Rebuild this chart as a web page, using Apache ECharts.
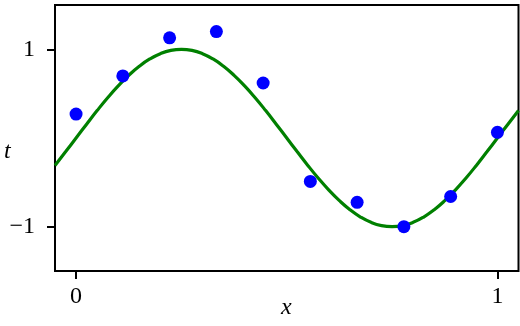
<!DOCTYPE html>
<html>
<head>
<meta charset="utf-8">
<script src="https://cdn.jsdelivr.net/npm/echarts@6/dist/echarts.min.js"></script>
<style>
html,body{margin:0;padding:0;background:#fff;}
#chart{width:520px;height:326px;}
</style>
</head>
<body>
<div id="chart"></div>
<script>
// Observed points
const pointX = [0, 0.111, 0.222, 0.333, 0.444, 0.556, 0.667, 0.778, 0.889, 1];
const pointT = [0.27, 0.70, 1.13, 1.20, 0.62, -0.49, -0.725, -1.0, -0.66, 0.064];
// Green curve
const curveX = [-0.05,-0.025,0,0.025,0.05,0.075,0.1,0.125,0.15,0.175,0.2,0.225,0.25,0.275,0.3,0.325,0.35,0.375,0.4,0.425,0.45,0.475,0.5,0.525,0.55,0.575,0.6,0.625,0.65,0.675,0.7,0.725,0.75,0.775,0.8,0.825,0.85,0.875,0.9,0.925,0.95,0.975,1,1.025,1.05];
const curveT = [-0.309,-0.156,0,0.156,0.309,0.454,0.588,0.707,0.809,0.891,0.951,0.988,1,0.988,0.951,0.891,0.809,0.707,0.588,0.454,0.309,0.156,0,-0.156,-0.309,-0.454,-0.588,-0.707,-0.809,-0.891,-0.951,-0.988,-1,-0.988,-0.951,-0.891,-0.809,-0.707,-0.588,-0.454,-0.309,-0.156,0,0.156,0.309];
const xTicks = [0, 1];
const yTicks = [-1, 1];
const xLabel = 'x';
const yLabel = 't';

const chart = echarts.init(document.getElementById('chart'), null, {renderer: 'canvas'});
const fmt = v => (v < 0 ? '\u2212' + Math.abs(v) : String(v));
const labelFont = {fontFamily: 'Liberation Serif', fontSize: 24, color: '#000'};
chart.setOption({
  animation: false,
  grid: {left: 55, right: 1.5, top: 5, bottom: 55, show: true, borderColor: '#000', borderWidth: 2, backgroundColor: 'transparent'},
  xAxis: {
    type: 'value', min: -0.05, max: 1.05,
    axisLine: {show: false, onZero: false},
    splitLine: {show: false},
    axisTick: {show: true, customValues: xTicks, length: 8, lineStyle: {color: '#000', width: 2}},
    axisLabel: Object.assign({show: true, customValues: xTicks, margin: 14, formatter: fmt}, labelFont)
  },
  yAxis: {
    type: 'value', min: -1.5, max: 1.5,
    axisLine: {show: false, onZero: false},
    splitLine: {show: false},
    axisTick: {show: true, customValues: yTicks, length: 8, lineStyle: {color: '#000', width: 2}},
    axisLabel: Object.assign({show: true, customValues: yTicks, margin: 20, formatter: fmt}, labelFont)
  },
  graphic: [
    {type: 'text', left: 287 - 6, top: 309 - 13, style: {text: xLabel, fontFamily: 'Liberation Serif', fontStyle: 'italic', fontSize: 24, fill: '#000'}},
    {type: 'text', left: 8 - 4, top: 153 - 13, style: {text: yLabel, fontFamily: 'Liberation Serif', fontStyle: 'italic', fontSize: 24, fill: '#000'}}
  ],
  series: [
    {
      type: 'line', data: curveX.map((x, i) => [x, curveT[i]]),
      smooth: true, showSymbol: false, symbol: 'none',
      lineStyle: {color: '#008000', width: 3.2}, z: 2
    },
    {
      type: 'scatter', data: pointX.map((x, i) => [x, pointT[i]]),
      symbolSize: 13, itemStyle: {color: '#0000ff', opacity: 1}, z: 3
    }
  ]
});
</script>
</body>
</html>
